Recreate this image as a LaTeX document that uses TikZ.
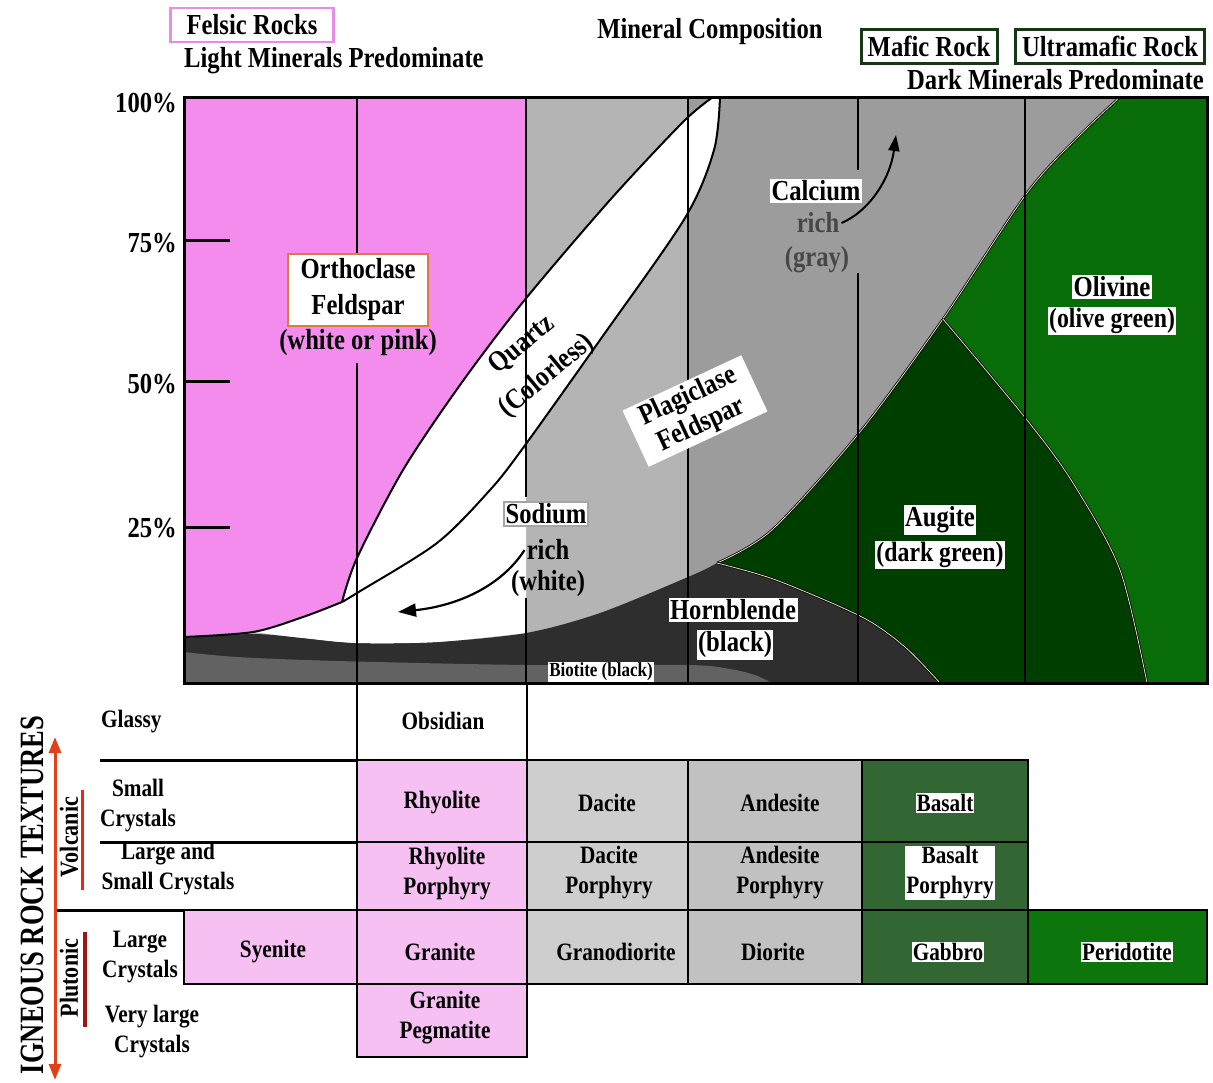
\documentclass[tikz,border=0pt]{standalone}
\usepackage{fontspec}
\setmainfont{Liberation Serif}[FakeStretch=0.85]
\newfontfamily\condfont{Liberation Serif}[FakeStretch=0.78]
\usetikzlibrary{arrows.meta}
\definecolor{pinkA}{RGB}{243,140,236}
\definecolor{grayL}{RGB}{180,180,180}
\definecolor{grayM}{RGB}{156,156,156}
\definecolor{hornb}{RGB}{46,46,46}
\definecolor{biot}{RGB}{98,98,98}
\definecolor{augC}{RGB}{0,62,0}
\definecolor{oliC}{RGB}{8,108,8}
\definecolor{tpink}{RGB}{246,192,242}
\definecolor{tgrayA}{RGB}{206,206,206}
\definecolor{tgrayB}{RGB}{193,193,193}
\definecolor{tdgreen}{RGB}{50,102,50}
\definecolor{tgreen}{RGB}{12,118,12}
\definecolor{felsicB}{RGB}{232,140,232}
\definecolor{maficB}{RGB}{20,55,20}
\definecolor{orthoB}{RGB}{225,120,60}
\definecolor{sodB}{RGB}{165,165,165}
\definecolor{arrowR}{RGB}{225,65,25}
\definecolor{volcR}{RGB}{235,40,20}
\definecolor{plutR}{RGB}{160,20,20}
\definecolor{gedge}{RGB}{225,228,195}
\begin{document}
\begin{tikzpicture}[x=1pt,y=-1pt,
  hdr/.style={font=\bfseries\fontsize{29}{30}\selectfont, inner sep=1pt},
  lbl/.style={font=\bfseries\fontsize{29}{36}\selectfont, align=center, inner sep=2pt},
  wlbl/.style={lbl, fill=white, inner sep=1.5pt},
  tbl/.style={font=\bfseries\fontsize{25}{30}\selectfont, align=center, inner sep=1pt},
  wtbl/.style={tbl, fill=white},
  side/.style={font=\bfseries\fontsize{25}{30}\selectfont, align=center, inner sep=1pt},
  bline/.style={line width=2},
  gline/.style={draw=black, line width=0.8, double=gedge, double distance=0.8},
  cell/.style={draw=black, line width=2}
]
\useasboundingbox (0,0) rectangle (1213,1082);

% ---------- chart background regions ----------
\fill[grayL] (184,97) rectangle (688,683);
\fill[grayM] (688,97) rectangle (1207,683);
\fill[hornb] plot[smooth] coordinates {(184,638) (253,634) (303,638) (357,643) (437,642) (526,633) (600,613) (688,577) (717,563) (772,530) (860,432) (943,319) (1027,193) (1080,135) (1120,97)}
  -- (1207,97) -- (1207,683) -- (184,683) -- cycle;
\fill[biot] plot[smooth] coordinates {(184,652) (237,657) (337,661) (526,665) (688,665) (730,669) (755,675) (772,683)} -- (184,683) -- cycle;
\fill[augC] plot[smooth] coordinates {(717,563) (772,530) (860,432) (943,319)}
  -- plot[smooth] coordinates {(943,319) (1027,420) (1073,483) (1120,570) (1147,683)}
  -- (940,683) -- plot[smooth] coordinates {(940,683) (905,647) (862,617) (776,580) (717,563)} -- cycle;
\fill[oliC] plot[smooth] coordinates {(943,319) (1027,193) (1080,135) (1120,97)}
  -- (1207,97) -- (1207,683)
  -- plot[smooth] coordinates {(1147,683) (1120,570) (1073,483) (1027,420) (943,319)} -- cycle;
\fill[pinkA] (184,97) -- (526,97) -- (526,299)
  -- plot[smooth] coordinates {(523,302) (460,385) (403,470) (357,558) (342,602)}
  -- plot[smooth] coordinates {(342,602) (303,617) (253,632) (184,637)} -- cycle;
\fill[white] plot[smooth] coordinates {(713,97) (683,122) (610,200) (523,302) (460,385) (403,470) (357,558) (342,602)}
  -- plot[smooth] coordinates {(342,602) (303,617) (253,632)}
  -- plot[smooth] coordinates {(253,632) (303,638) (357,643) (437,642) (526,633)}
  -- (526,450)
  -- plot[smooth] coordinates {(523,448) (600,340) (685,218) (714,150) (720,97)} -- cycle;

% ---------- boundaries ----------
\draw[bline] plot[smooth] coordinates {(713,97) (683,122) (610,200) (523,302) (460,385) (403,470) (357,558) (342,602)};
\draw[bline] plot[smooth] coordinates {(720,97) (714,150) (685,218) (600,340) (523,448) (490,490) (437,543) (357,593) (342,602)};
\draw[bline] plot[smooth] coordinates {(342,602) (303,617) (253,632) (184,637)};
\draw[gline] plot[smooth] coordinates {(717,563) (772,530) (860,432) (943,319) (1027,193) (1080,135) (1120,97)};
\draw[gline] plot[smooth] coordinates {(717,563) (776,580) (862,617) (905,647) (940,683)};
\draw[gline] plot[smooth] coordinates {(943,319) (1027,420) (1073,483) (1120,570) (1147,683)};

% vertical composition lines
\draw[bline] (357,97) -- (357,254);
\draw[bline] (357,363) -- (357,683);
\draw[bline] (526,97) -- (526,497);
\draw[bline] (526,598) -- (526,683);
\draw[bline] (688,97) -- (688,683);
\draw[bline] (858,97) -- (858,170);
\draw[bline] (858,273) -- (858,683);
\draw[bline] (1025,97) -- (1025,683);

% frame and ticks
\draw[line width=3] (184,683) -- (184,97) -- (1207,97) -- (1207,683) -- cycle;
\foreach \ty in {240,381,527} \draw[line width=3] (184,\ty) -- (230,\ty);

% ---------- headers ----------
\node[hdr, draw=felsicB, line width=2.5, minimum width=163, minimum height=34] (felsic) at (252,25) {Felsic Rocks};
\node[hdr, anchor=west] (lightmin) at (183,61) {Light Minerals Predominate};
\node[hdr] (mincomp) at (710,32) {Mineral Composition};
\node[hdr, draw=maficB, line width=3, minimum width=136, minimum height=34] (mafic) at (929,46) {Mafic Rock};
\node[hdr, draw=maficB, line width=3, minimum width=189, minimum height=34] (ultra) at (1110,46) {Ultramafic Rock};
\node[hdr, anchor=east] (darkmin) at (1205,80) {Dark Minerals Predominate};

\node[hdr, anchor=east] (p100) at (178,103) {100\%};
\node[hdr, anchor=east] (p75) at (178,243) {75\%};
\node[hdr, anchor=east] (p50) at (178,384) {50\%};
\node[hdr, anchor=east] (p25) at (178,528) {25\%};

% ---------- chart labels ----------
\node[lbl, draw=orthoB, line width=2, fill=white, minimum width=140, minimum height=72] (ortho) at (358,290) {Orthoclase\\Feldspar};
\node[lbl] (orthoc) at (358,343) {(white or pink)};
\node[lbl, rotate=40, inner sep=0pt] (quartz) at (522,345) {Quartz};
\node[lbl, rotate=40, inner sep=0pt] (colorless) at (547,376) {(Colorless)};
\node[lbl, fill=white, rotate=25, minimum width=131, minimum height=62, font=\bfseries\fontsize{29}{31}\selectfont] (plag) at (695,411) {Plagiclase\\Feldspar};
\node[lbl, draw=sodB, line width=2, fill=white] (sodium) at (546,514) {Sodium};
\node[lbl] (narich) at (548,550) {rich};
\node[lbl] (nawhite) at (548,584) {(white)};
\node[wlbl] (calcium) at (816,191) {Calcium};
\node[lbl, text=black!72] (carich) at (818,223) {rich};
\node[lbl, text=black!72] (cagray) at (817,260) {(gray)};
\node[wlbl] (hornbl) at (733,610) {Hornblende};
\node[wlbl] (hornc) at (735,645) {(black)};
\node[fill=white, inner sep=1pt, font=\bfseries\fontsize{20}{20}\selectfont] (biotite) at (601,672) {Biotite (black)};
\node[wlbl] (augite) at (940,520) {Augite};
\node[wlbl, font=\bfseries\fontsize{28}{30}\selectfont] (augc) at (940,555) {(dark green)};
\node[wlbl] (olivine) at (1112,287) {Olivine};
\node[wlbl, font=\bfseries\fontsize{28}{30}\selectfont] (olic) at (1112,321) {(olive green)};

\coordinate (catip) at (896,135);
\draw[line width=2, -{Triangle[length=16,width=11]}] (carich.east) .. controls (868,212) and (890,180) .. (catip);
\coordinate (natip) at (398,612);
\draw[line width=2.2, -{Triangle[length=18,width=13]}] (narich.west) .. controls (500,588) and (455,606) .. (natip);

% ---------- table ----------
\draw[cell] (357,683) -- (357,760);
\draw[cell] (527,683) -- (527,760);
\foreach \xa/\xb/\c in {357/527/tpink, 527/688/tgrayA, 688/862/tgrayB, 862/1028/tdgreen}{
  \filldraw[cell, fill=\c] (\xa,760) rectangle (\xb,842);
  \filldraw[cell, fill=\c] (\xa,842) rectangle (\xb,910);
}
\foreach \xa/\xb/\c in {184/357/tpink, 357/527/tpink, 527/688/tgrayA, 688/862/tgrayB, 862/1028/tdgreen, 1028/1207/tgreen}{
  \filldraw[cell, fill=\c] (\xa,910) rectangle (\xb,984);
}
\filldraw[cell, fill=tpink] (357,984) rectangle (527,1057);
\draw[line width=3] (100,760) -- (357,760);
\draw[line width=3] (100,842) -- (357,842);
\draw[line width=3] (57,910) -- (184,910);

\node[tbl] (obsidian) at (443,721) {Obsidian};
\node[tbl] (rhyolite) at (442,803) {Rhyolite};
\node[tbl] (dacite) at (607,803) {Dacite};
\node[tbl] (andesite) at (780,803) {Andesite};
\node[wtbl] (basalt) at (945,803) {Basalt};
\node[tbl] (rhyp) at (447,874) {Rhyolite\\Porphyry};
\node[tbl] (dacp) at (609,873) {Dacite\\Porphyry};
\node[tbl] (andp) at (780,873) {Andesite\\Porphyry};
\node[wtbl] (basp) at (950,873) {Basalt\\Porphyry};
\node[tbl] (syenite) at (273,952) {Syenite};
\node[tbl] (granite) at (440,952) {Granite};
\node[tbl] (granod) at (616,952) {Granodiorite};
\node[tbl] (diorite) at (773,952) {Diorite};
\node[wtbl] (gabbro) at (948,952) {Gabbro};
\node[wtbl] (peridot) at (1127,952) {Peridotite};
\node[tbl] (pegm) at (445,1018) {Granite\\Pegmatite};

\node[side, anchor=west] (glassy) at (100,722) {Glassy};
\node[side] (smallc) at (138,806) {Small\\Crystals};
\node[side] (lsc) at (168,869) {Large and\\Small Crystals};
\node[side] (largec) at (140,957) {Large\\Crystals};
\node[side] (vlarge) at (152,1032) {Very large\\Crystals};

% ---------- side titles ----------
\node[rotate=90, inner sep=0pt, font=\condfont\bfseries\fontsize{34}{34}\selectfont] (title) at (32,895) {IGNEOUS ROCK TEXTURES};
\coordinate (arrtop) at (55,737);
\coordinate (arrbot) at (55,1080);
\draw[arrowR, line width=3, {Triangle[length=16,width=12]}-{Triangle[length=16,width=12]}] (arrtop) -- (arrbot);
\node[rotate=90, inner sep=0pt, font=\bfseries\fontsize{26}{26}\selectfont] (volc) at (69,837) {Volcanic};
\node[rotate=90, inner sep=0pt, font=\bfseries\fontsize{26}{26}\selectfont] (plut) at (69,978) {Plutonic};
\coordinate (vb1) at (82,790);
\coordinate (vb2) at (82,890);
\draw[volcR, line width=3] (vb1) -- (vb2);
\coordinate (pb1) at (85,932);
\coordinate (pb2) at (85,1027);
\draw[plutR, line width=3.5] (pb1) -- (pb2);
\end{tikzpicture}
\end{document}
